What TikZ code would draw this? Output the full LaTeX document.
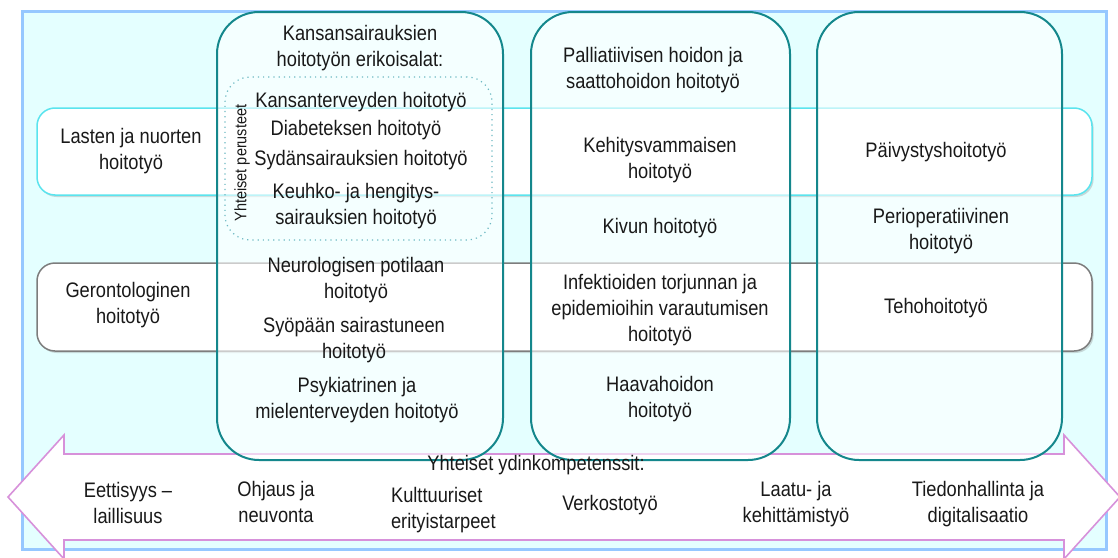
\documentclass[tikz,border=0pt]{standalone}
\usepackage{fontspec}
\setmainfont[FakeStretch=0.87]{Liberation Sans}
\usetikzlibrary{shapes,shadows}

\definecolor{bgcyan}{RGB}{228,255,255}
\definecolor{outerblue}{RGB}{150,200,255}
\definecolor{colteal}{RGB}{20,135,140}
\definecolor{dotteal}{RGB}{110,185,195}
\definecolor{bandcyan}{RGB}{90,228,238}
\definecolor{bandgray}{RGB}{125,125,125}
\definecolor{arrowpink}{RGB}{215,145,218}
\definecolor{txt}{RGB}{25,25,25}

\begin{document}
\begin{tikzpicture}[x=0.5pt,y=-0.5pt]
        \tikzstyle{every node}=[font=\fontsize{10.5}{13}\selectfont, text=txt, align=center]
        \tikzstyle{band}=[rectangle, rounded corners=9pt, fill=white, line width=0.75pt, minimum width=527.5pt, inner sep=0pt, drop shadow={opacity=0.3, shadow xshift=0.8pt, shadow yshift=-1pt}]
        \tikzstyle{column}=[rectangle, rounded corners=21pt, draw=colteal, fill=white, fill opacity=0.6, line width=1pt, minimum height=224pt, inner sep=0pt]
        \tikzstyle{basics}=[rectangle, rounded corners=12.5pt, draw=dotteal, dotted, line width=0.6pt, minimum width=133.5pt, minimum height=81.5pt, inner sep=0pt]
        \useasboundingbox (0,0) rectangle (1118,557);
        \draw[outerblue, fill=bgcyan, line width=1.5pt] (22,11) rectangle (1106,549);
        % horizontal bands
        \node[band, draw=bandcyan, minimum height=43.5pt] (lastenband) at (564.5,151.5) {};
        \node[band, draw=bandgray, minimum height=44pt] (gerontband) at (564.5,307) {};
        % core competences arrow
        \draw[arrowpink, fill=white, line width=0.8pt] (8,497) -- (64,435) -- (64,454) -- (1064,454) -- (1064,435) -- (1120,497)
                -- (1064,559) -- (1064,540) -- (64,540) -- (64,559) -- cycle;
        % specialty columns
        \node[column, minimum width=143pt] (kansancol) at (360,236) {};
        \node[column, minimum width=129.5pt] (palliacol) at (660.5,236) {};
        \node[column, minimum width=122.5pt] (paivycol) at (939.5,236) {};
        \node[basics] (perusbox) at (358.5,158.5) {};
        % column texts
        \node (kansan) at (360,48) {Kansansairauksien\\hoitotyön erikoisalat:};
        \node (kterv) at (361,102) {Kansanterveyden hoitotyö};
        \node (diab) at (356,130) {Diabeteksen hoitotyö};
        \node (sydan) at (361,160) {Sydänsairauksien hoitotyö};
        \node (keuhko) at (356,206) {Keuhko- ja hengitys-\\sairauksien hoitotyö};
        \node[rotate=90, font=\fontsize{8.3}{10}\selectfont] (perus) at (242,163) {Yhteiset perusteet};
        \node (neuro) at (356,280) {Neurologisen potilaan\\hoitotyö};
        \node (syopa) at (354,340) {Syöpään sairastuneen\\hoitotyö};
        \node (psyk) at (357,400) {Psykiatrinen ja\\mielenterveyden hoitotyö};
        \node (pallia) at (653,70) {Palliatiivisen hoidon ja\\saattohoidon hoitotyö};
        \node (kehitys) at (660,160) {Kehitysvammaisen\\hoitotyö};
        \node (kipu) at (660,228) {Kivun hoitotyö};
        \node (infekt) at (660,310) {Infektioiden torjunnan ja\\epidemioihin varautumisen\\hoitotyö};
        \node (haava) at (660,399) {Haavahoidon\\hoitotyö};
        \node (paivystys) at (936,152) {Päivystyshoitotyö};
        \node (periop) at (941,231) {Perioperatiivinen\\hoitotyö};
        \node (teho) at (936,308) {Tehohoitotyö};
        % band texts
        \node (lasten) at (131,151) {Lasten ja nuorten\\hoitotyö};
        \node (geront) at (128,305) {Gerontologinen\\hoitotyö};
        % arrow texts
        \node (ydin) at (536,465) {Yhteiset ydinkompetenssit:};
        \node (etiikka) at (128,503) {Eettisyys –\\laillisuus};
        \node (ohjaus) at (276,502) {Ohjaus ja\\neuvonta};
        \node[align=left, anchor=west] (kulttuuri) at (384,510) {Kulttuuriset\\erityistarpeet};
        \node (verkosto) at (610,505) {Verkostotyö};
        \node (laatu) at (796,504) {Laatu- ja\\kehittämistyö};
        \node (tieto) at (978,504) {Tiedonhallinta ja\\digitalisaatio};
\end{tikzpicture}
\end{document}
